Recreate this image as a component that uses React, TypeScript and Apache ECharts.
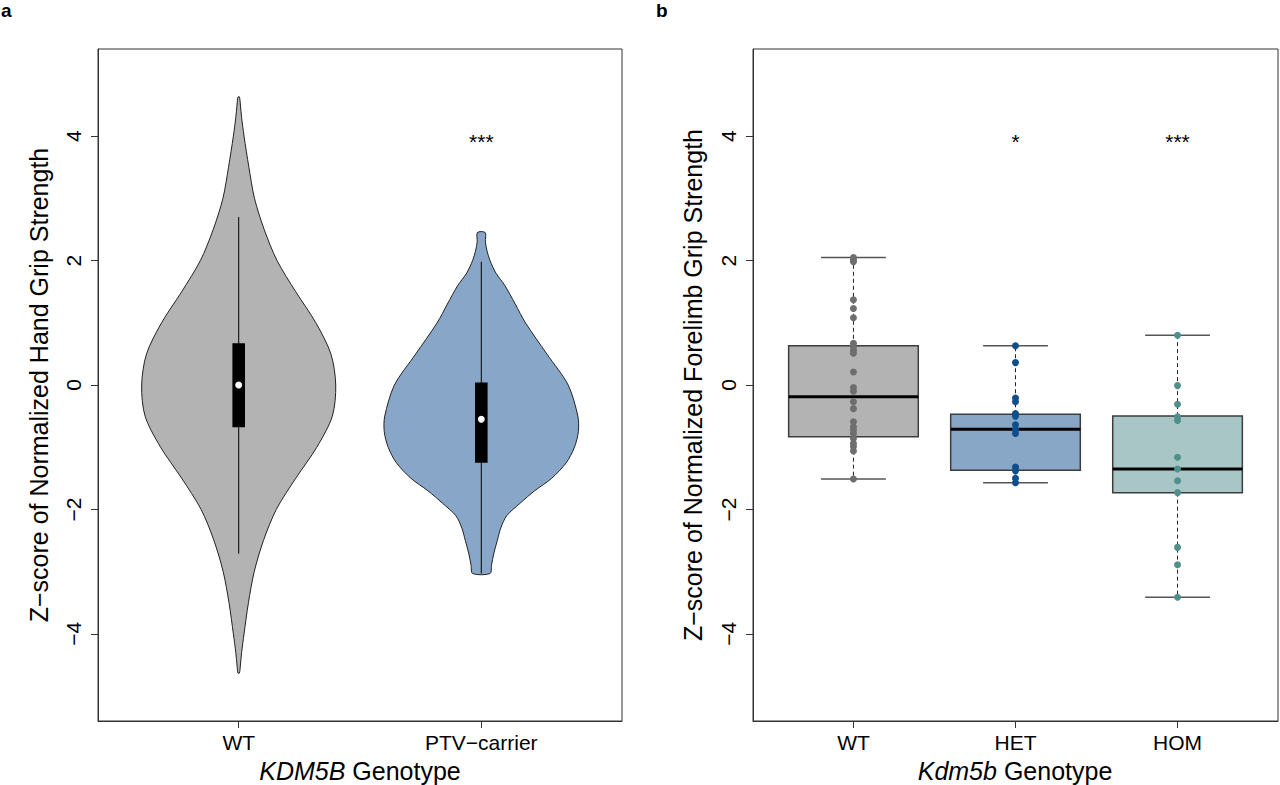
import React, { useEffect, useRef } from 'react';
import * as echarts from 'echarts';

const FONT = '"Liberation Sans", Arial, Helvetica, sans-serif';

// ---------- Panel a: violins ----------
const violinCategories = ['WT', 'PTV\u2212carrier'];
const wtViolinY = [4.63, 4.5, 4.3, 4.0, 3.5, 3.0, 2.5, 2.0, 1.5, 1.0, 0.5, 0, -0.5, -1.0, -1.5, -2.0, -2.5, -3.0, -3.5, -4.0, -4.3, -4.5, -4.63];
const wtViolinHalfWidth = [0.003, 0.007, 0.012, 0.022, 0.042, 0.065, 0.105, 0.158, 0.235, 0.318, 0.38, 0.40, 0.386, 0.322, 0.235, 0.155, 0.102, 0.064, 0.04, 0.022, 0.012, 0.007, 0.003];
const ptvViolinY = [2.45, 2.3, 2.15, 2.0, 1.8, 1.6, 1.3, 1.0, 0.5, 0, -0.5, -0.75, -1.0, -1.25, -1.5, -1.7, -1.9, -2.1, -2.3, -2.5, -2.7, -2.9, -3.03];
const ptvViolinHalfWidth = [0.016, 0.017, 0.024, 0.036, 0.06, 0.097, 0.14, 0.182, 0.27, 0.358, 0.398, 0.40, 0.384, 0.35, 0.29, 0.22, 0.16, 0.105, 0.08, 0.066, 0.052, 0.042, 0.036];
const violinWhiskerLow = [-2.71, -3.03];
const violinWhiskerHigh = [2.70, 1.98];
const violinQ1 = [-0.68, -1.25];
const violinQ3 = [0.67, 0.04];
const violinMedian = [0.0, -0.55];
const sigAX = [2];
const sigAY = [4];
const sigALabels = ['***'];

// ---------- Panel b: boxplots ----------
const boxCategories = ['WT', 'HET', 'HOM'];
const boxLowerWhisker = [-1.51, -1.57, -3.41];
const boxQ1 = [-0.83, -1.37, -1.73];
const boxMedian = [-0.19, -0.71, -1.35];
const boxQ3 = [0.63, -0.47, -0.50];
const boxUpperWhisker = [2.05, 0.63, 0.80];
const wtPoints = [2.05, 2.01, 1.98, 1.37, 1.23, 1.08, 0.67, 0.62, 0.56, 0.51, 0.21, -0.04, -0.10, -0.27, -0.38, -0.59, -0.67, -0.72, -0.78, -0.86, -0.94, -0.99, -1.06, -1.51];
const hetPoints = [0.63, 0.36, -0.21, -0.27, -0.46, -0.50, -0.64, -0.72, -0.78, -1.32, -1.38, -1.50, -1.57];
const homPoints = [0.80, -0.01, -0.31, -0.51, -0.57, -1.16, -1.35, -1.54, -1.73, -2.61, -2.89, -3.41];
const sigBX = [2, 3];
const sigBY = [4, 4];
const sigBLabels = ['*', '***'];

const yTicks = [-4, -2, 0, 2, 4];

const violinProfiles = [
  { y: wtViolinY, hw: wtViolinHalfWidth, color: '#B3B3B3' },
  { y: ptvViolinY, hw: ptvViolinHalfWidth, color: '#88A7C8' },
];
const boxFills = ['#B3B3B3', '#88A6C6', '#A8C6C6'];

const fmtY = (v: number) => (v < 0 ? '\u2212' + Math.abs(v) : String(v));

const yAxisFor = (gridIndex: number) => ({
  type: 'value',
  gridIndex,
  min: -5.4,
  max: 5.4,
  axisLine: { show: true, onZero: false, lineStyle: { color: '#333', width: 1 } },
  axisTick: { show: true, customValues: yTicks, length: 7, lineStyle: { color: '#333' } },
  axisLabel: { customValues: yTicks, rotate: 90, fontSize: 21, fontFamily: FONT, color: '#000', margin: 14, formatter: fmtY },
  splitLine: { show: false },
});

const xAxisFor = (gridIndex: number, min: number, max: number, cats: string[]) => {
  const vals = cats.map((_, i) => i + 1);
  return {
    type: 'value',
    gridIndex,
    min,
    max,
    axisLine: { show: true, onZero: false, lineStyle: { color: '#333', width: 1 } },
    axisTick: { show: true, customValues: vals, length: 7, lineStyle: { color: '#333' } },
    axisLabel: {
      customValues: vals,
      fontSize: 21,
      fontFamily: FONT,
      color: '#000',
      margin: 11,
      formatter: (v: number) => cats[Math.round(v) - 1] ?? '',
    },
    splitLine: { show: false },
  };
};

const textSeries = (xAxisIndex: number, xs: number[], ys: number[], labels: string[]) => ({
  type: 'custom',
  xAxisIndex,
  yAxisIndex: xAxisIndex,
  z: 10,
  data: xs.map((x, i) => [x, ys[i]]),
  renderItem: (params: any, api: any) => {
    const p = api.coord([api.value(0), api.value(1)]);
    return {
      type: 'text',
      x: p[0],
      y: p[1] + 5,
      style: { text: labels[params.dataIndex], fontSize: 21, fontFamily: FONT, fill: '#000', align: 'center', verticalAlign: 'middle' },
    };
  },
});

function buildOption() {
  return {
    animation: false,
    backgroundColor: '#fff',
    grid: [
      { left: 98, right: 658, top: 49, bottom: 64, show: true, borderColor: '#333', borderWidth: 1, containLabel: false, outerBoundsMode: 'none' },
      { left: 753, right: 2, top: 49, bottom: 64, show: true, borderColor: '#333', borderWidth: 1, containLabel: false, outerBoundsMode: 'none' },
    ],
    xAxis: [
      xAxisFor(0, 0.42, 2.58, violinCategories),
      xAxisFor(1, 0.38, 3.62, boxCategories),
    ],
    yAxis: [yAxisFor(0), yAxisFor(1)],
    series: [
      {
        type: 'custom',
        xAxisIndex: 0,
        yAxisIndex: 0,
        data: violinCategories.map((_, i) => [i + 1, violinMedian[i]]),
        renderItem: (params: any, api: any) => {
          const i = params.dataIndex;
          const cx = i + 1;
          const prof = violinProfiles[i];
          const right = prof.y.map((y, k) => api.coord([cx + prof.hw[k], y]));
          const left = prof.y.map((y, k) => api.coord([cx - prof.hw[k], y])).reverse();
          const pts = right.concat(left);
          const top = api.coord([cx, violinWhiskerHigh[i]]);
          const bot = api.coord([cx, violinWhiskerLow[i]]);
          const q3 = api.coord([cx - 0.026, violinQ3[i]]);
          const q1 = api.coord([cx + 0.026, violinQ1[i]]);
          const med = api.coord([cx, violinMedian[i]]);
          return {
            type: 'group',
            children: [
              { type: 'polygon', shape: { points: pts, smooth: 0.3 }, style: { fill: prof.color, stroke: '#222', lineWidth: 1 } },
              { type: 'line', shape: { x1: top[0], y1: top[1], x2: bot[0], y2: bot[1] }, style: { stroke: '#000', lineWidth: 1 } },
              { type: 'rect', shape: { x: q3[0], y: q3[1], width: q1[0] - q3[0], height: q1[1] - q3[1] }, style: { fill: '#000' } },
              { type: 'circle', shape: { cx: med[0], cy: med[1], r: 3.5 }, style: { fill: '#fff' } },
            ],
          };
        },
      },
      textSeries(0, sigAX, sigAY, sigALabels),
      {
        type: 'custom',
        xAxisIndex: 1,
        yAxisIndex: 1,
        data: boxCategories.map((_, i) => [i + 1, boxMedian[i]]),
        renderItem: (params: any, api: any) => {
          const i = params.dataIndex;
          const cx = i + 1;
          const bl = api.coord([cx - 0.4, boxQ1[i]]);
          const tr = api.coord([cx + 0.4, boxQ3[i]]);
          const mL = api.coord([cx - 0.4, boxMedian[i]]);
          const mR = api.coord([cx + 0.4, boxMedian[i]]);
          const wTop = api.coord([cx, boxUpperWhisker[i]]);
          const wBot = api.coord([cx, boxLowerWhisker[i]]);
          const q3c = api.coord([cx, boxQ3[i]]);
          const q1c = api.coord([cx, boxQ1[i]]);
          const capTL = api.coord([cx - 0.2, boxUpperWhisker[i]]);
          const capTR = api.coord([cx + 0.2, boxUpperWhisker[i]]);
          const capBL = api.coord([cx - 0.2, boxLowerWhisker[i]]);
          const capBR = api.coord([cx + 0.2, boxLowerWhisker[i]]);
          return {
            type: 'group',
            children: [
              { type: 'line', shape: { x1: q3c[0], y1: q3c[1], x2: wTop[0], y2: wTop[1] }, style: { stroke: '#222', lineWidth: 1, lineDash: [4, 3] } },
              { type: 'line', shape: { x1: q1c[0], y1: q1c[1], x2: wBot[0], y2: wBot[1] }, style: { stroke: '#222', lineWidth: 1, lineDash: [4, 3] } },
              { type: 'line', shape: { x1: capTL[0], y1: capTL[1], x2: capTR[0], y2: capTR[1] }, style: { stroke: '#555', lineWidth: 1.5 } },
              { type: 'line', shape: { x1: capBL[0], y1: capBL[1], x2: capBR[0], y2: capBR[1] }, style: { stroke: '#555', lineWidth: 1.5 } },
              { type: 'rect', shape: { x: bl[0], y: tr[1], width: tr[0] - bl[0], height: bl[1] - tr[1] }, style: { fill: boxFills[i], stroke: '#3d3d3d', lineWidth: 1.5 } },
              { type: 'line', shape: { x1: mL[0], y1: mL[1], x2: mR[0], y2: mR[1] }, style: { stroke: '#000', lineWidth: 3 } },
            ],
          };
        },
      },
      {
        type: 'scatter', xAxisIndex: 1, yAxisIndex: 1, z: 5, symbolSize: 7,
        itemStyle: { color: '#6E6E6E', opacity: 1 },
        data: wtPoints.map((v) => [1, v]),
      },
      {
        type: 'scatter', xAxisIndex: 1, yAxisIndex: 1, z: 5, symbolSize: 7,
        itemStyle: { color: '#0F4D8B', opacity: 1 },
        data: hetPoints.map((v) => [2, v]),
      },
      {
        type: 'scatter', xAxisIndex: 1, yAxisIndex: 1, z: 5, symbolSize: 7,
        itemStyle: { color: '#4F8F8C', opacity: 1 },
        data: homPoints.map((v) => [3, v]),
      },
      textSeries(1, sigBX, sigBY, sigBLabels),
    ],
    graphic: [
      { type: 'text', x: 1, y: 10, style: { text: 'a', fontSize: 19, fontWeight: 'bold', fontFamily: FONT, fill: '#000', align: 'left', verticalAlign: 'middle' } },
      { type: 'text', x: 656, y: 10, style: { text: 'b', fontSize: 19, fontWeight: 'bold', fontFamily: FONT, fill: '#000', align: 'left', verticalAlign: 'middle' } },
      {
        type: 'text', x: 39, y: 385, rotation: Math.PI / 2,
        style: { text: 'Z\u2212score of Normalized Hand Grip Strength', fontSize: 25, fontFamily: FONT, fill: '#000', align: 'center', verticalAlign: 'middle' },
      },
      {
        type: 'text', x: 693, y: 385, rotation: Math.PI / 2,
        style: { text: 'Z\u2212score of Normalized Forelimb Grip Strength', fontSize: 25, fontFamily: FONT, fill: '#000', align: 'center', verticalAlign: 'middle' },
      },
      {
        type: 'text', x: 360, y: 771,
        style: {
          text: '{i|KDM5B} Genotype', fontSize: 25, fontFamily: FONT, fill: '#000', align: 'center', verticalAlign: 'middle',
          rich: { i: { fontStyle: 'italic', fontSize: 25, fontFamily: FONT, fill: '#000' } },
        },
      },
      {
        type: 'text', x: 1015, y: 771,
        style: {
          text: '{i|Kdm5b} Genotype', fontSize: 25, fontFamily: FONT, fill: '#000', align: 'center', verticalAlign: 'middle',
          rich: { i: { fontStyle: 'italic', fontSize: 25, fontFamily: FONT, fill: '#000' } },
        },
      },
    ],
  };
}

export default function App() {
  const ref = useRef<HTMLDivElement>(null);
  useEffect(() => {
    if (!ref.current) return;
    const chart = echarts.init(ref.current, null, { renderer: 'svg' });
    chart.setOption(buildOption() as any);
    return () => chart.dispose();
  }, []);
  return (
    <div
      ref={ref}
      style={{ position: 'fixed', left: 0, top: 0, width: 1280, height: 785, background: '#fff' }}
    />
  );
}
